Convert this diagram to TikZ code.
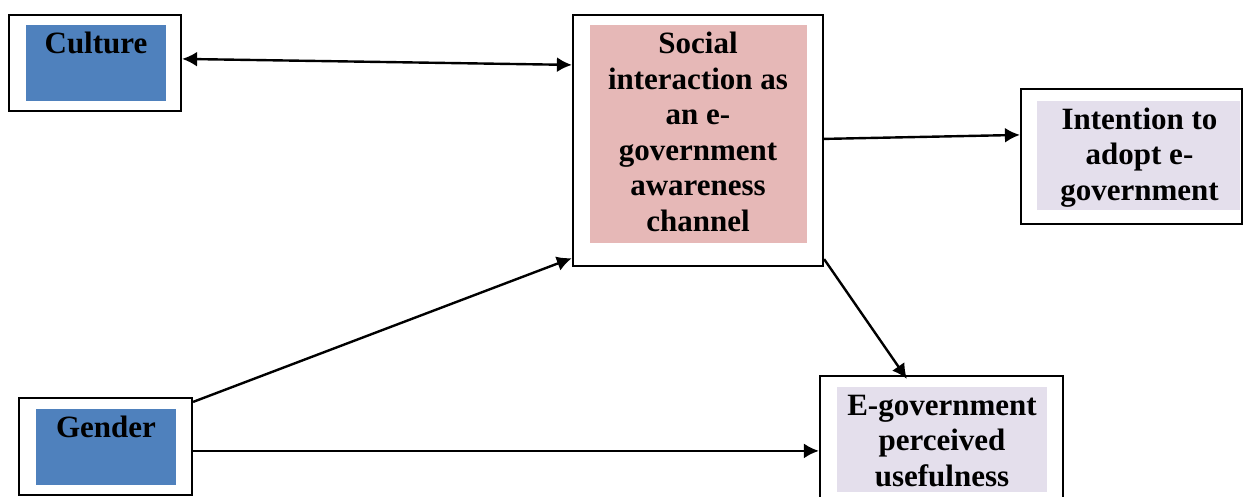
\documentclass[tikz,border=0pt]{standalone}
\usepackage{fontspec}
\setmainfont{Liberation Serif}
\usetikzlibrary{arrows.meta,calc}
\definecolor{boxblue}{HTML}{4F81BD}
\definecolor{boxpink}{HTML}{E6B8B7}
\definecolor{boxlav}{HTML}{E4DFEC}
\begin{document}
\begin{tikzpicture}[x=1pt,y=-1pt,
  outerbox/.style={draw=black,line width=2.2pt,fill=white,inner sep=0pt},
  innerbox/.style={draw=none,inner sep=0pt},
  lbl/.style={inner sep=0pt,align=center,anchor=base,
    font=\bfseries\fontsize{31}{35.5}\selectfont},
  tip/.style={Latex[length=15pt,width=15pt]},
  link/.style={line width=2.4pt,-{Latex[length=15pt,width=15pt]}},
  dlink/.style={line width=2.4pt,{Latex[length=15pt,width=15pt]}-{Latex[length=15pt,width=15pt]}}]
\useasboundingbox (0,0) rectangle (1244,496);
\clip (0,0) rectangle (1244,496);

% Culture
\node[outerbox,minimum width=172pt,minimum height=96pt] (cult) at (95,63) {};
\node[innerbox,fill=boxblue,minimum width=140pt,minimum height=76pt] (cultin) at (96,63) {};
\node[lbl] (culttx) at (96,53) {Culture};

% Social interaction (base anchor sits on the last line)
\node[outerbox,minimum width=250pt,minimum height=251pt] (soc) at (698,140.5) {};
\node[innerbox,fill=boxpink,minimum width=217pt,minimum height=218pt] (socin) at (698.5,134) {};
\node[lbl] (soctx) at (698,231) {Social\\interaction as\\an e-\\government\\awareness\\channel};

% Intention to adopt
\node[outerbox,minimum width=221pt,minimum height=135pt] (int) at (1131.5,156.5) {};
\node[innerbox,fill=boxlav,minimum width=203pt,minimum height=109pt] (intin) at (1138.5,155.5) {};
\node[lbl] (inttx) at (1139.5,200) {Intention to\\adopt e-\\government};

% Perceived usefulness
\node[outerbox,minimum width=243pt,minimum height=140pt] (egov) at (941.5,446) {};
\node[innerbox,fill=boxlav,minimum width=210pt,minimum height=105pt] (egovin) at (942,439.5) {};
\node[lbl] (egovtx) at (942,486) {E-government\\perceived\\usefulness};

% Gender
\node[outerbox,minimum width=173pt,minimum height=97pt] (gen) at (105.5,446.5) {};
\node[innerbox,fill=boxblue,minimum width=140pt,minimum height=76pt] (genin) at (106,447) {};
\node[lbl] (gentx) at (106,437) {Gender};

% Connectors
\draw[dlink] ($(cult.north east)+(0,45)$) -- ($(soc.north west)+(0,51)$);
\draw[link] ($(soc.north east)+(0,125)$) -- ($(int.north west)+(0,47)$);
\draw[link] ($(gen.north east)+(0,5)$) -- ($(soc.south west)+(0,-9)$);
\draw[link] ($(gen.north east)+(0,54)$) -- ($(egov.north west)+(0,76)$);
\draw[link] ($(soc.south east)+(0,-8)$) -- ($(egov.north west)+(88,4)$);
\end{tikzpicture}
\end{document}
